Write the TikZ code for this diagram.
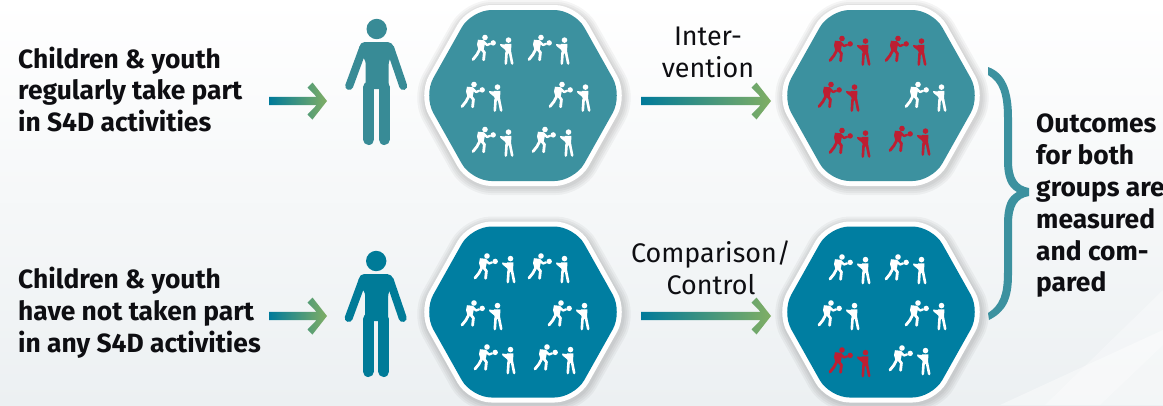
\documentclass[tikz,border=0pt]{standalone}
\usepackage{fontspec}
\setmainfont{Fira Sans}
\usetikzlibrary{calc}
\definecolor{tealA}{HTML}{3C919F}
\definecolor{tealB}{HTML}{007EA1}
\definecolor{personA}{HTML}{388B96}
\definecolor{personB}{HTML}{007B98}
\definecolor{redfig}{HTML}{BE1E32}
\definecolor{arrowA}{HTML}{007A9A}
\definecolor{arrowB}{HTML}{80AE64}
\definecolor{inktext}{HTML}{0E0E12}
\definecolor{bgtop}{HTML}{FFFFFF}
\definecolor{bgmid}{HTML}{F8FAFA}
\definecolor{bgbot}{HTML}{ECF0F2}
\tikzset{
  x=1pt,y=-1pt,
  boldlabel/.style={font=\fontsize{26.4}{31.8}\selectfont\bfseries,text=inktext,align=left,inner sep=0pt},
  pluslabel/.style={font=\fontsize{26.9}{32}\selectfont,text=inktext,align=center,inner sep=0pt},
  hexpath/.style={rounded corners=20pt,line join=round},
}
\newcommand{\playerpair}[2]{%
  \begin{scope}[shift={#1},#2,fill=#2,draw=#2,line cap=round,line join=round]
    \fill (0,0) circle (2.8);
    \fill (8.2,5.4) circle (2.7);
    \fill (-7,2.2) -- (-1,2.8) -- (0,6) -- (-1.5,12.5) -- (-6.5,12.5) -- (-8,7) -- cycle;
    \draw[line width=2.3] (-1.5,4) -- (2,7.5) -- (5,6.4);
    \draw[line width=2.8] (-5.4,12) -- (-8,17) -- (-12,22);
    \draw[line width=2.8] (-3,12) -- (-0.6,15) -- (-1.4,22.3);
    \fill (23.5,2.6) circle (2.8);
    \fill (20.2,6.3) -- (26.4,6.3) -- (26,16) -- (20.6,16) -- cycle;
    \draw[line width=2.6] (21.6,15) -- (20.8,26);
    \draw[line width=2.6] (25,15) -- (27.2,26);
    \fill (21,7) -- (15,6.6) -- (15.5,8.5) -- (21,13) -- cycle;
  \end{scope}}
\newcommand{\hexagroup}[5]{%
  \coordinate (#1) at #2;
  \begin{scope}[shift={(#1)}]
    \foreach \w in {24,20,16,12}{
      \draw[hexpath,black,opacity=.04,line width=\w pt]
        (-99.5,2) -- (-51.5,87.5) -- (53,87.5) -- (101.5,2) -- (53,-83.5) -- (-51.5,-83.5) -- cycle;}
    \draw[hexpath,white,fill=#3,line width=10pt]
      (-99.5,0) -- (-51.5,-85.5) -- (51.5,-85.5) -- (99.5,0) -- (51.5,85.5) -- (-51.5,85.5) -- cycle;
    \fill[hexpath,#3]
      (-99.5,0) -- (-51.5,-85.5) -- (51.5,-85.5) -- (99.5,0) -- (51.5,85.5) -- (-51.5,85.5) -- cycle;
    \begin{scope}[shift={(0,#4)}]
    #5
    \end{scope}
  \end{scope}}
\newcommand{\gradarrow}[2]{%
  \shade[left color=arrowA,right color=arrowB]
    ($(#1)+(0,-4.2)$) -- ($(#2)+(-10.5,-4.2)$) -- ($(#2)+(-19.5,-13.5)$) -- ($(#2)+(-14.5,-18.5)$) --
    (#2) -- ($(#2)+(-14.5,18.5)$) -- ($(#2)+(-19.5,13.5)$) -- ($(#2)+(-10.5,4.2)$) -- ($(#1)+(0,4.2)$) -- cycle;}
\newcommand{\personfig}[3]{%
  \coordinate (#1) at #2;
  \begin{scope}[shift={(#1)},#3,fill=#3,draw=#3,line cap=round,line join=round]
    \fill (0,0) circle (10.2);
    \draw[line width=8] (-13.5,19) -- (-27.5,57);
    \draw[line width=8] (13.5,19) -- (26.5,57);
    \fill[rounded corners=5pt] (-17,13) -- (16,13) -- (18,25) -- (12,30) -- (12,60) -- (-11,60) -- (-11,30) -- (-18,25) -- cycle;
    \draw[line width=11] (-8,58) -- (-8,110.5);
    \draw[line width=11] (7.5,58) -- (7.5,110.5);
  \end{scope}}
\begin{document}
\begin{tikzpicture}
\useasboundingbox (0,0) rectangle (1163,405);
\shade[top color=bgtop,middle color=bgmid,bottom color=bgbot] (0,0) rectangle (1163,405);
\fill[white,opacity=.4] (1000,405) -- (1163,330) -- (1163,405) -- cycle;
\fill[white,opacity=.3] (1045,405) -- (1163,290) -- (1163,345) -- (1100,405) -- cycle;

\node[boldlabel,anchor=west] (t1) at (18,89.5) {Children \& youth\\regularly take part\\in S4D activities};
\node[boldlabel,anchor=west] (t2) at (18,313) {Children \& youth\\have not taken part\\in any S4D activities};

\coordinate (a1s) at (269,101); \coordinate (a1e) at (327,101);
\coordinate (a2s) at (269,316); \coordinate (a2e) at (327,316);
\coordinate (a3s) at (641,101); \coordinate (a3e) at (771,101);
\coordinate (a4s) at (641,316); \coordinate (a4e) at (771,316);
\gradarrow{a1s}{a1e}
\gradarrow{a2s}{a2e}
\gradarrow{a3s}{a3e}
\gradarrow{a4s}{a4e}

\personfig{p1}{(376.7,29)}{personA}
\personfig{p2}{(376.2,261)}{personB}

\hexagroup{h1}{(523,95.5)}{tealA}{0}{%
  \playerpair{(-38,-58)}{white}\playerpair{(18,-58)}{white}
  \playerpair{(-49,-11)}{white}\playerpair{(39,-11)}{white}
  \playerpair{(-38,34)}{white}\playerpair{(22,34)}{white}}
\hexagroup{h2}{(881,95.5)}{tealA}{0}{%
  \playerpair{(-39,-57)}{redfig}\playerpair{(17,-57)}{redfig}
  \playerpair{(-50,-11)}{redfig}\playerpair{(37,-11)}{white}
  \playerpair{(-39,35)}{redfig}\playerpair{(21,33)}{redfig}}
\hexagroup{h3}{(523,312)}{tealB}{0}{%
  \playerpair{(-36,-56)}{white}\playerpair{(18,-56)}{white}
  \playerpair{(-49,-9)}{white}\playerpair{(38,-9)}{white}
  \playerpair{(-36,35)}{white}\playerpair{(24,35)}{white}}
\hexagroup{h4}{(881,312)}{tealB}{0}{%
  \playerpair{(-39,-55)}{white}\playerpair{(17,-55)}{white}
  \playerpair{(-50,-9)}{white}\playerpair{(37,-9)}{white}
  \playerpair{(-39,38)}{redfig}\playerpair{(21,36)}{white}}

\node[pluslabel] (l1) at (708,52) {Inter-\\vention};
\node[pluslabel] (l2) at (711,268) {Comparison/\\Control};

\fill[tealA] (988,67) .. controls (1005,73) and (1012,90) .. (1012,118) -- (1012,160)
  .. controls (1012,178) and (1017,186) .. (1029,188) -- (1029,196)
  .. controls (1017,198) and (1012,206) .. (1012,225) -- (1012,275)
  .. controls (1012,300) and (1005,312) .. (989,320) -- (988,313)
  .. controls (1000,305) and (1004,295) .. (1004,272) -- (1004,225)
  .. controls (1004,205) and (1008,197) .. (1017,192)
  .. controls (1008,187) and (1004,178) .. (1004,160) -- (1004,118)
  .. controls (1004,95) and (1000,82) .. (988,75) -- cycle;

\node[boldlabel,anchor=west] (t3) at (1036,206) {Outcomes\\for both\\groups are\\measured\\and com-\\pared};
\end{tikzpicture}
\end{document}
